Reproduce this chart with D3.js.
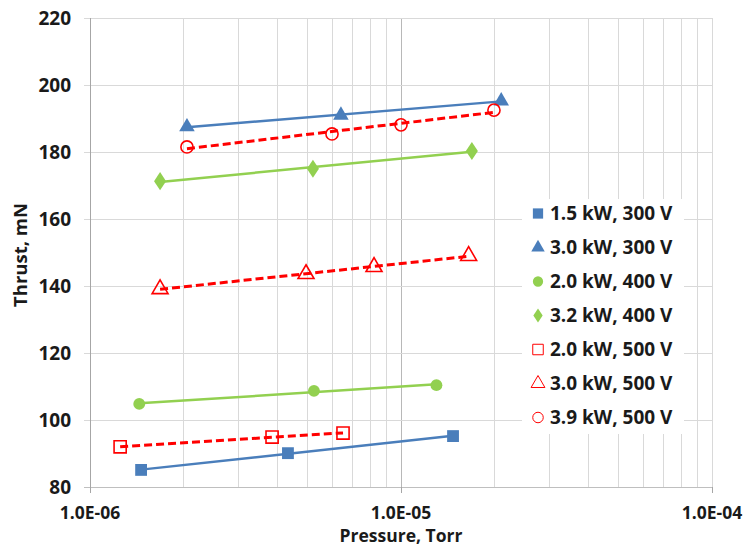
<!DOCTYPE html>
<html><head><meta charset="utf-8">
<script src="https://cdn.jsdelivr.net/npm/d3@7"></script>
<style>body{margin:0;background:#fff}svg{display:block}text{font-family:"Open Sans",Lato,sans-serif;font-weight:bold;fill:#1a1a1a}</style>
</head><body><svg id="c" width="753" height="548"></svg>
<script>
// Data (pressure in Torr, thrust in mN)
const seriesNames = ["1.5 kW, 300 V","3.0 kW, 300 V","2.0 kW, 400 V","3.2 kW, 400 V","2.0 kW, 500 V","3.0 kW, 500 V","3.9 kW, 500 V"];
const p_15_300 = [1.46e-6, 4.33e-6, 1.47e-5];
const t_15_300 = [85.1, 90.1, 95.2];
const p_30_300 = [2.05e-6, 6.41e-6, 2.10e-5];
const t_30_300 = [187.5, 191.0, 195.2];
const p_20_400 = [1.44e-6, 5.25e-6, 1.30e-5];
const t_20_400 = [104.8, 108.7, 110.4];
const p_32_400 = [1.68e-6, 5.21e-6, 1.69e-5];
const t_32_400 = [171.3, 175.0, 180.3];
const p_20_500 = [1.25e-6, 3.85e-6, 6.51e-6];
const t_20_500 = [92.0, 94.9, 96.1];
const p_30_500 = [1.68e-6, 4.95e-6, 8.19e-6, 1.65e-5];
const t_30_500 = [139.1, 143.6, 145.7, 149.0];
const p_39_500 = [2.05e-6, 6.0e-6, 1.0e-5, 1.99e-5];
const t_39_500 = [181.5, 185.4, 188.1, 192.5];
const yTicks = [80,100,120,140,160,180,200,220];
const xTickLabels = ["1.0E-06","1.0E-05","1.0E-04"];
const xTickValues = [1e-6,1e-5,1e-4];

const BLUE="#4a7ebb", GREEN="#92d050", RED="#ff0000";
const series = [
  {name:seriesNames[0], p:p_15_300, t:t_15_300, color:BLUE, shape:"square", fill:true, dash:false},
  {name:seriesNames[1], p:p_30_300, t:t_30_300, color:BLUE, shape:"triangle", fill:true, dash:false},
  {name:seriesNames[2], p:p_20_400, t:t_20_400, color:GREEN, shape:"circle", fill:true, dash:false},
  {name:seriesNames[3], p:p_32_400, t:t_32_400, color:GREEN, shape:"diamond", fill:true, dash:false},
  {name:seriesNames[4], p:p_20_500, t:t_20_500, color:RED, shape:"square", fill:false, dash:true},
  {name:seriesNames[5], p:p_30_500, t:t_30_500, color:RED, shape:"triangle", fill:false, dash:true},
  {name:seriesNames[6], p:p_39_500, t:t_39_500, color:RED, shape:"circle", fill:false, dash:true},
];

const svg = d3.select("#c");
const L=90, R=712, T=18, B=487;
const x = d3.scaleLog().domain([1e-6,1e-4]).range([L,R]);
const y = d3.scaleLinear().domain([80,220]).range([B,T]);

// grid
const minor = [];
for (let e=-6;e<-4;e++) for (let k=1;k<10;k++) minor.push(k*Math.pow(10,e));
minor.push(1e-4);
svg.append("g").selectAll("line").data(minor).join("line")
  .attr("x1",d=>x(d)).attr("x2",d=>x(d)).attr("y1",T).attr("y2",B)
  .attr("stroke",d=>Math.abs(d-1e-5)<1e-12?"#b8b8b8":"#d9d9d9").attr("stroke-width",1).attr("shape-rendering","crispEdges");
svg.append("g").selectAll("line").data(yTicks).join("line")
  .attr("x1",L-6).attr("x2",R).attr("y1",d=>y(d)).attr("y2",d=>y(d))
  .attr("stroke",d=>d===80?"#bfbfbf":"#d9d9d9").attr("shape-rendering","crispEdges");
// axes
svg.append("line").attr("x1",L).attr("x2",L).attr("y1",T).attr("y2",B+5).attr("stroke","#a6a6a6").attr("shape-rendering","crispEdges");
svg.append("g").selectAll("line").data(xTickValues).join("line")
  .attr("x1",d=>x(d)).attr("x2",d=>x(d)).attr("y1",B).attr("y2",B+6).attr("stroke","#a6a6a6").attr("shape-rendering","crispEdges");

// tick labels
svg.append("g").selectAll("text").data(yTicks).join("text")
  .attr("x",71).attr("y",d=>y(d)).attr("dy","0.36em").attr("text-anchor","end")
  .style("font-size","19px").text(d=>d);
svg.append("g").selectAll("text").data(xTickValues).join("text")
  .attr("x",d=>x(d)).attr("y",519).attr("text-anchor","middle")
  .style("font-size","17.5px").text((d,i)=>xTickLabels[i]);
svg.append("text").attr("x",401).attr("y",542).attr("text-anchor","middle").style("font-size","17.5px").text("Pressure, Torr");
svg.append("text").attr("transform","translate(27,255) rotate(-90)").attr("text-anchor","middle").style("font-size","18.5px").text("Thrust, mN");

// trendlines (logarithmic fit, straight on log axis)
function fit(p,t){
  const lx=p.map(v=>Math.log10(v)); const n=lx.length;
  const mx=d3.mean(lx), my=d3.mean(t);
  let sxy=0,sxx=0; for(let i=0;i<n;i++){sxy+=(lx[i]-mx)*(t[i]-my); sxx+=(lx[i]-mx)**2;}
  const a=sxy/sxx, b=my-a*mx;
  const x0=d3.min(p), x1=d3.max(p);
  return [[x0,a*Math.log10(x0)+b],[x1,a*Math.log10(x1)+b]];
}
const line = d3.line().x(d=>x(d[0])).y(d=>y(d[1]));
series.forEach(s=>{
  svg.append("path").attr("d",line(fit(s.p,s.t))).attr("fill","none")
    .attr("stroke",s.color).attr("stroke-width",s.dash?3:2.5)
    .attr("stroke-dasharray",s.dash?"8,4":null);
});

const sym = {square:d3.symbolSquare, triangle:d3.symbolTriangle, circle:d3.symbolCircle, diamond:d3.symbolDiamond};
const sizes = {square:140, triangle:105, circle:110, diamond:95};
function marker(g,s,cx,cy,scale){
  const sz = sizes[s.shape]*(scale||1);
  let path = d3.symbol().type(sym[s.shape]).size(s.fill?sz:sz*1.05)();
  g.append("path").attr("d",path).attr("transform",`translate(${cx},${cy})`+(s.shape==="diamond"?" scale(1.15,1)":""))
    .attr("fill",s.fill?s.color:"none").attr("stroke",s.color).attr("stroke-width",s.fill?0:(scale?1:1.6));
}
series.forEach(s=>{
  const g=svg.append("g");
  s.p.forEach((pv,i)=>marker(g,s,x(pv),y(s.t[i])));
});

// legend
const lg = svg.append("g");
lg.append("rect").attr("x",522).attr("y",199).attr("width",162).attr("height",235).attr("fill","#fff");
series.forEach((s,i)=>{
  const cy = 213.5 + i*34;
  marker(lg,s,538,cy,s.shape==="diamond"?0.6:0.75);
  lg.append("text").attr("x",550).attr("y",cy).attr("dy","0.36em").style("font-size","19px").text(s.name);
});
</script></body></html>
